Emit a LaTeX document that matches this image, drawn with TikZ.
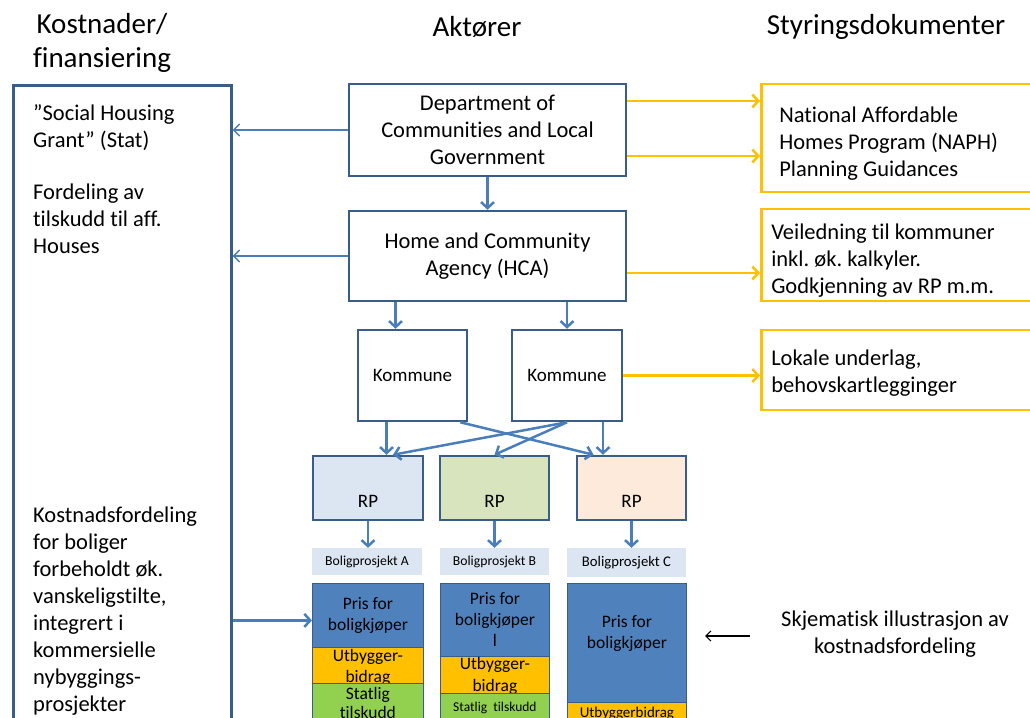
\documentclass[tikz,border=0pt]{standalone}
\usepackage{fontspec}
\setmainfont{Carlito}[Ligatures=NoCommon]
\usetikzlibrary{arrows.meta}
\frenchspacing

\definecolor{BoxBlue}{HTML}{385D8A}
\definecolor{ArrowBlue}{HTML}{4A7EBB}
\definecolor{DocYellow}{HTML}{FFC000}
\definecolor{RPBlue}{HTML}{DCE6F2}
\definecolor{RPGreen}{HTML}{D7E4BD}
\definecolor{RPPeach}{HTML}{FDEADA}
\definecolor{PriceBlue}{HTML}{4F81BD}
\definecolor{GrantGreen}{HTML}{92D050}

\begin{document}
\begin{tikzpicture}[x=1pt,y=-1pt]
  \useasboundingbox (0,0) rectangle (1030,717);
  \clip (0,0) rectangle (1030,717);
  \tikzset{HeadStyle/.style = {
    align         = center,
    inner sep     = 0pt,
    text          = black,
    font          = \fontsize{29}{34}\selectfont
    }
  }
  \tikzset{CostStyle/.style = {
    shape         = rectangle,
    draw          = BoxBlue,
    fill          = white,
    line width    = 2.5pt,
    anchor        = north west,
    minimum width = 218,
    minimum height= 700
    }
  }
  \tikzset{NoteStyle/.style = {
    anchor        = north west,
    align         = flush left,
    inner sep     = 0pt,
    text          = black,
    font          = \fontsize{22.5}{27}\selectfont
    }
  }
  \tikzset{ActorStyle/.style = {
    shape         = rectangle,
    draw          = BoxBlue,
    fill          = white,
    line width    = 2.5pt,
    text          = black,
    align         = center,
    inner sep     = 2pt,
    font          = \fontsize{22.5}{27}\selectfont
    }
  }
  \tikzset{DocStyle/.style = {
    shape         = rectangle,
    draw          = DocYellow,
    fill          = white,
    line width    = 2.5pt,
    anchor        = west,
    align         = flush left,
    text          = black,
    font          = \fontsize{22.5}{27}\selectfont
    }
  }
  \tikzset{RPStyle/.style = {
    shape         = rectangle,
    draw          = BoxBlue,
    line width    = 2.5pt,
    minimum height= 64,
    text height   = 39pt,
    text depth    = 0pt,
    font          = \fontsize{19}{22}\selectfont
    }
  }
  \tikzset{ProjStyle/.style = {
    shape         = rectangle,
    fill          = RPBlue,
    minimum height= 27,
    font          = \fontsize{13.7}{16}\selectfont
    }
  }
  \tikzset{BarStyle/.style = {
    shape         = rectangle,
    draw          = BoxBlue,
    line width    = 0.8pt,
    anchor        = north west,
    align         = center,
    inner sep     = 0pt,
    text          = black,
    font          = \fontsize{17.5}{21}\selectfont
    }
  }
  \tikzset{ArrowStyle/.style = {
    draw          = ArrowBlue,
    line width    = 2.5pt,
    -{Straight Barb[length=6pt,width=13pt]}
    }
  }
  \tikzset{ThinArrowStyle/.style = {
    draw          = ArrowBlue,
    line width    = 1.5pt,
    -{Straight Barb[length=6pt,width=12pt]}
    }
  }
  \tikzset{DocArrowStyle/.style = {
    draw          = DocYellow,
    line width    = 2.5pt,
    -{Straight Barb[length=6pt,width=13pt]}
    }
  }

	% headings
	\node[HeadStyle](HeadCost) at (102, 43) {Kostnader/\\finansiering};
	\node[HeadStyle](HeadActor) at (477, 27) {Aktører};
	\node[HeadStyle](HeadDoc) at (886, 27) {Styringsdokumenter};

	% left column
	\node[CostStyle](Cost) at (12, 84) {};
	\node[NoteStyle](Grant) at (33, 104) {”Social Housing\\Grant” (Stat)};
	\node[NoteStyle](Share) at (33, 184) {Fordeling av\\tilskudd til aff.\\Houses};
	\node[NoteStyle](Split) at (33, 507) {Kostnadsfordeling\\for boliger\\forbeholdt øk.\\vanskeligstilte,\\integrert i\\kommersielle\\nybyggings-\\prosjekter};

	% actors
	\node[ActorStyle, minimum width=277, minimum height=92](DCLG) at (487.5, 130) {Department of\\Communities and Local\\Government};
	\node[ActorStyle, minimum width=277, minimum height=90](HCA) at (487.5, 256) {Home and Community\\Agency (HCA)};
	\node[ActorStyle, minimum width=109, minimum height=91, font=\fontsize{19}{22}\selectfont](Kom1) at (412.5, 375.5) {Kommune};
	\node[ActorStyle, minimum width=110, minimum height=91, font=\fontsize{19}{22}\selectfont](Kom2) at (567, 375.5) {Kommune};

	% documents
	\node[DocStyle, minimum height=108, inner xsep=18pt, text width=234pt](NAPH) at (760, 138) {\rule{0pt}{27pt}National Affordable\\Homes Program (NAPH)\\Planning Guidances};
	\node[DocStyle, minimum height=86, inner xsep=10pt, text width=250pt](Guide) at (760, 255) {\rule{0pt}{27pt}Veiledning til kommuner\\inkl. øk. kalkyler.\\Godkjenning av RP m.m.};
	\node[DocStyle, minimum height=80, inner xsep=10pt, text width=250pt](Local) at (760, 370) {\rule{0pt}{21pt}Lokale underlag,\\behovskartlegginger};

	% RP and projects
	\node[RPStyle, fill=RPBlue, minimum width=110](RPA) at (368, 488) {RP};
	\node[RPStyle, fill=RPGreen, minimum width=109](RPB) at (494.5, 488) {RP};
	\node[RPStyle, fill=RPPeach, minimum width=109](RPC) at (631.5, 488) {RP};
	\node[ProjStyle, minimum width=110](ProjA) at (367, 561.5) {Boligprosjekt A};
	\node[ProjStyle, minimum width=109](ProjB) at (494.5, 561.5) {Boligprosjekt B};
	\node[ProjStyle, minimum width=119, minimum height=29, font=\fontsize{14.7}{17}\selectfont](ProjC) at (626.5, 562.5) {Boligprosjekt C};

	% cost bars
	\node[BarStyle, fill=PriceBlue, minimum width=111, minimum height=64](PriceA) at (312, 583) {Pris for\\boligkjøper};
	\node[BarStyle, fill=DocYellow, minimum width=111, minimum height=41](YieldA) at (312, 647) {Utbygger-\\bidrag};
	\node[BarStyle, fill=GrantGreen, minimum width=111, minimum height=40, font=\fontsize{17.5}{19}\selectfont](GrantA) at (312, 683) {Statlig\\tilskudd};
	\node[BarStyle, fill=PriceBlue, minimum width=109, minimum height=73](PriceB) at (440, 583) {Pris for\\boligkjøper\\l};
	\node[BarStyle, fill=DocYellow, minimum width=109, minimum height=40, font=\fontsize{17.5}{22}\selectfont](YieldB) at (440, 656) {Utbygger-\\bidrag};
	\node[BarStyle, fill=GrantGreen, minimum width=109, minimum height=30, font=\fontsize{13.5}{15}\selectfont](GrantB) at (440, 693) {Statlig~~tilskudd};
	\node[BarStyle, fill=PriceBlue, minimum width=119, minimum height=119, text depth=22pt](PriceC) at (567, 583) {Pris for\\boligkjøper};
	\node[BarStyle, fill=DocYellow, minimum width=119, minimum height=22, font=\fontsize{15}{17}\selectfont](YieldC) at (567, 702) {Utbyggerbidrag};

	% note
	\node[HeadStyle, font=\fontsize{22.5}{27}\selectfont](Note) at (895, 634.5) {Skjematisk illustrasjon av\\kostnadsfordeling};
	\coordinate (NoteTail) at (750, 636);
	\coordinate (NoteTip) at (705, 636);

	% connectors
	\draw[ThinArrowStyle](DCLG.west) to (DCLG.west -| Cost.east);
	\draw[ThinArrowStyle](HCA.west) to (HCA.west -| Cost.east);
	\draw[ArrowStyle](DCLG.south) to (HCA.north);
	\draw[ArrowStyle]([xshift=-17pt]Kom1.north |- HCA.south) to ([xshift=-17pt]Kom1.north);
	\draw[ArrowStyle](Kom2.north |- HCA.south) to (Kom2.north);
	\draw[ArrowStyle]([xshift=-26pt]Kom1.south) to ([xshift=-26pt]Kom1.south |- RPA.north);
	\draw[ArrowStyle]([xshift=-8pt]Kom1.south east) to ([xshift=-38pt]RPC.north);
	\draw[ArrowStyle](Kom2.south) to ([xshift=25pt]RPA.north);
	\draw[ArrowStyle](Kom2.south) to (RPB.north);
	\draw[ArrowStyle]([xshift=36pt]Kom2.south) to ([xshift=36pt]Kom2.south |- RPC.north);
	\draw[ArrowStyle](RPA.south) to (RPA.south |- ProjA.north);
	\draw[ArrowStyle](RPB.south) to (RPB.south |- ProjB.north);
	\draw[ArrowStyle](RPC.south) to (RPC.south |- ProjC.north);
	\draw[ArrowStyle]([yshift=-5pt]PriceA.west -| Cost.east) to ([yshift=-5pt]PriceA.west);
	\draw[DocArrowStyle]([yshift=29pt]DCLG.east) to ([yshift=29pt]DCLG.east -| NAPH.west);
	\draw[DocArrowStyle]([yshift=-26pt]DCLG.east) to ([yshift=-26pt]DCLG.east -| NAPH.west);
	\draw[DocArrowStyle]([yshift=-17pt]HCA.east) to ([yshift=-17pt]HCA.east -| Guide.west);
	\draw[DocArrowStyle](Kom2.east) to (Kom2.east -| Local.west);
	\draw[line width=1.2pt, -{Straight Barb[length=5pt,width=10pt]}](NoteTail) to (NoteTip);

  \end{tikzpicture}
\end{document}
